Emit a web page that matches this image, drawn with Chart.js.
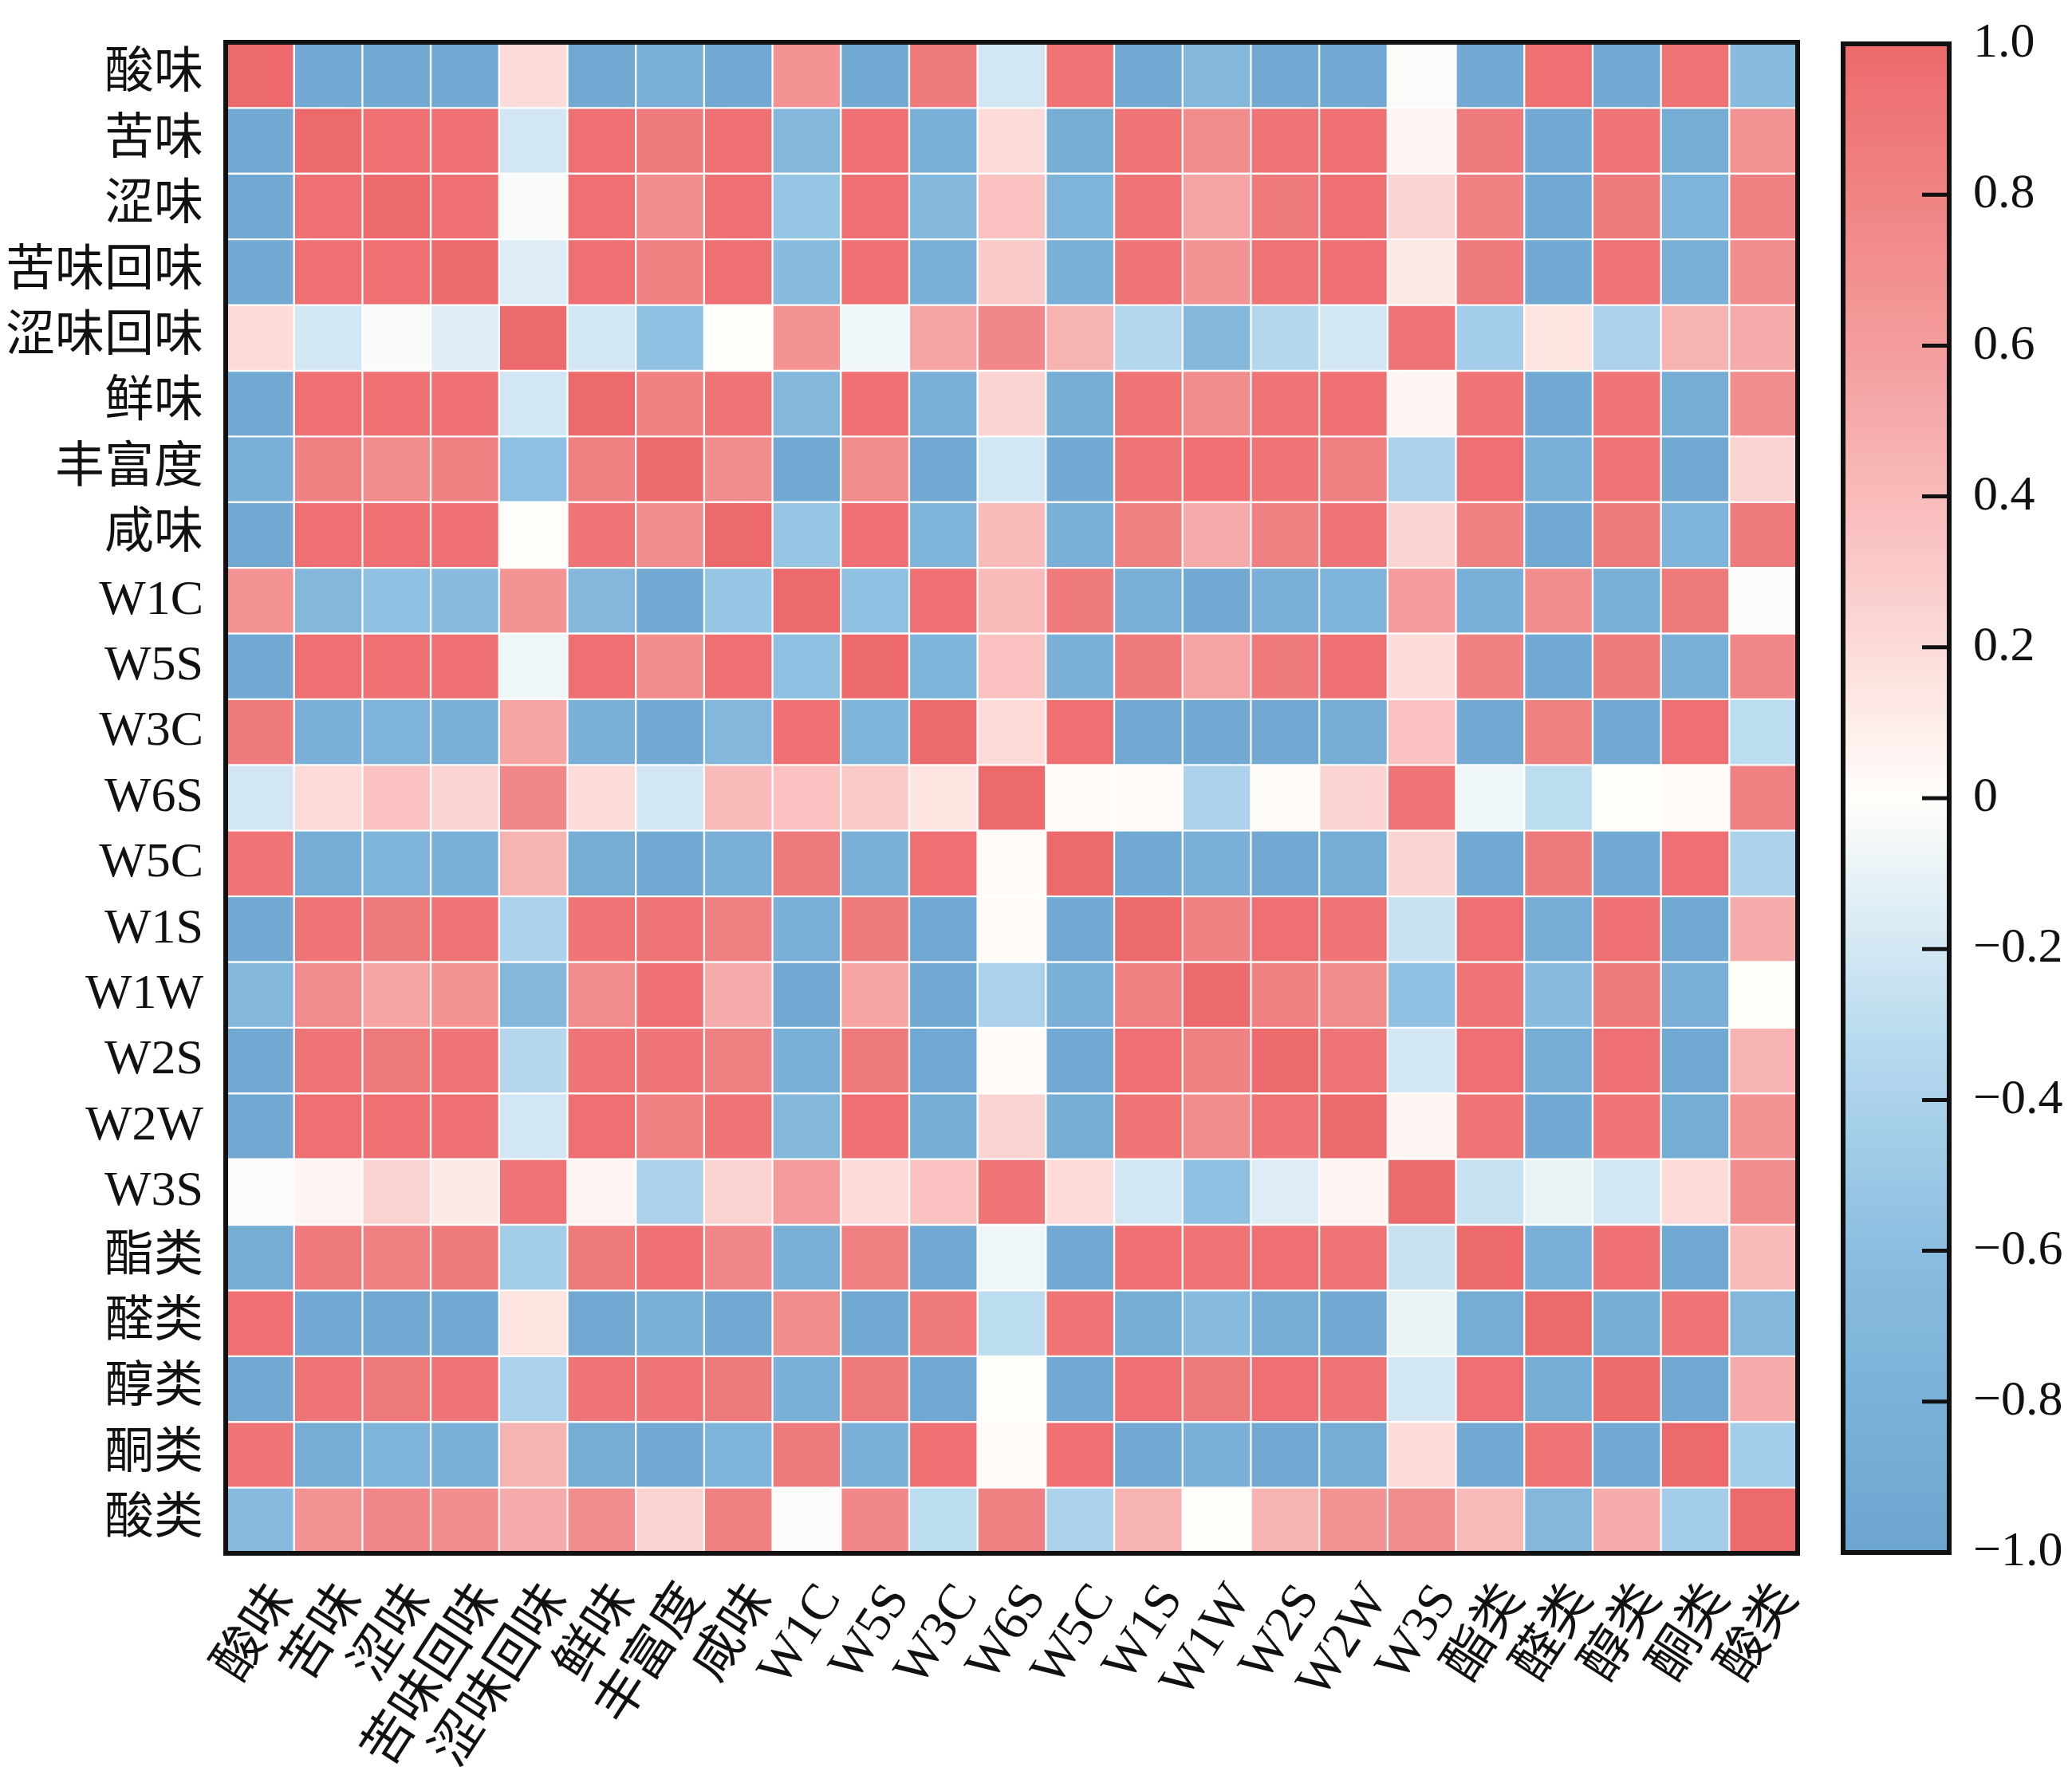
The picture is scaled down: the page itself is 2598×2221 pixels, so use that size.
<!DOCTYPE html>
<html>
<head>
<meta charset="utf-8">
<script src="https://cdn.jsdelivr.net/npm/chart.js@4.4.1/dist/chart.umd.min.js"></script>
<style>
  body { margin: 0; background: #fff; }
  #wrap { position: relative; width: 2598px; height: 2221px; background: #fff; }
  #heat { position: absolute; left: 0; top: 0; width: 2300px; height: 2221px; }
  #bar { position: absolute; left: 2300px; top: 0; width: 298px; height: 2221px; }
</style>
</head>
<body>
<div id="wrap">
  <div id="heat"><canvas id="heatChart"></canvas></div>
  <div id="bar"><canvas id="barChart"></canvas></div>
</div>
<script>
// correlation heatmap of taste / sensor / volatile indices
var labels = ['酸味', '苦味', '涩味', '苦味回味', '涩味回味', '鲜味', '丰富度', '咸味',
              'W1C', 'W5S', 'W3C', 'W6S', 'W5C', 'W1S', 'W1W', 'W2S', 'W2W', 'W3S',
              '酯类', '醛类', '醇类', '酮类', '酸类'];

// one row per label, same column order
var corr = [
  [1, -0.93, -0.93, -0.93, 0.2, -0.93, -0.82, -0.93, 0.67, -0.93, 0.87, -0.2, 0.92, -0.93, -0.7, -0.93, -0.93, -0.02, -0.93, 0.95, -0.93, 0.92, -0.64],
  [-0.93, 1, 0.95, 0.95, -0.2, 0.95, 0.87, 0.95, -0.7, 0.95, -0.82, 0.2, -0.88, 0.92, 0.72, 0.92, 0.95, 0.05, 0.87, -0.93, 0.92, -0.88, 0.67],
  [-0.93, 0.95, 1, 0.95, -0.03, 0.95, 0.72, 0.95, -0.52, 0.95, -0.7, 0.35, -0.76, 0.92, 0.55, 0.87, 0.95, 0.25, 0.82, -0.93, 0.87, -0.76, 0.82],
  [-0.93, 0.95, 0.95, 1, -0.15, 0.95, 0.82, 0.95, -0.64, 0.95, -0.82, 0.3, -0.82, 0.92, 0.67, 0.92, 0.95, 0.12, 0.87, -0.93, 0.92, -0.82, 0.72],
  [0.2, -0.2, -0.03, -0.15, 1, -0.2, -0.58, 0, 0.67, -0.07, 0.55, 0.77, 0.45, -0.35, -0.7, -0.35, -0.2, 0.92, -0.45, 0.15, -0.4, 0.45, 0.5],
  [-0.93, 0.95, 0.95, 0.95, -0.2, 1, 0.82, 0.92, -0.7, 0.95, -0.82, 0.25, -0.88, 0.92, 0.72, 0.92, 0.95, 0.05, 0.92, -0.93, 0.92, -0.88, 0.72],
  [-0.82, 0.82, 0.72, 0.82, -0.58, 0.82, 1, 0.72, -0.93, 0.72, -0.93, -0.2, -0.93, 0.92, 0.95, 0.92, 0.82, -0.4, 0.95, -0.82, 0.92, -0.93, 0.25],
  [-0.93, 0.95, 0.95, 0.95, 0, 0.92, 0.72, 1, -0.52, 0.95, -0.76, 0.4, -0.82, 0.82, 0.5, 0.82, 0.92, 0.25, 0.82, -0.93, 0.87, -0.76, 0.87],
  [0.67, -0.7, -0.58, -0.64, 0.67, -0.7, -0.93, -0.52, 1, -0.58, 0.95, 0.4, 0.87, -0.82, -0.93, -0.82, -0.76, 0.62, -0.82, 0.72, -0.82, 0.87, -0.02],
  [-0.93, 0.95, 0.95, 0.95, -0.07, 0.95, 0.72, 0.95, -0.58, 1, -0.76, 0.35, -0.82, 0.87, 0.55, 0.87, 0.95, 0.2, 0.82, -0.93, 0.87, -0.82, 0.77],
  [0.87, -0.82, -0.76, -0.82, 0.55, -0.82, -0.93, -0.7, 0.95, -0.76, 1, 0.2, 0.95, -0.93, -0.93, -0.93, -0.88, 0.35, -0.93, 0.82, -0.93, 0.95, -0.3],
  [-0.2, 0.2, 0.35, 0.25, 0.77, 0.2, -0.2, 0.4, 0.35, 0.3, 0.15, 1, 0.02, 0.02, -0.4, 0.02, 0.25, 0.92, -0.07, -0.3, 0, 0.02, 0.82],
  [0.92, -0.88, -0.76, -0.82, 0.45, -0.88, -0.93, -0.82, 0.87, -0.82, 0.95, 0.02, 1, -0.93, -0.82, -0.93, -0.88, 0.25, -0.93, 0.87, -0.93, 0.95, -0.4],
  [-0.93, 0.92, 0.87, 0.92, -0.4, 0.92, 0.92, 0.82, -0.82, 0.87, -0.93, 0.02, -0.93, 1, 0.82, 0.95, 0.92, -0.25, 0.95, -0.88, 0.95, -0.93, 0.5],
  [-0.7, 0.72, 0.55, 0.67, -0.7, 0.72, 0.95, 0.5, -0.93, 0.55, -0.93, -0.4, -0.82, 0.82, 1, 0.82, 0.72, -0.58, 0.92, -0.64, 0.87, -0.82, 0],
  [-0.93, 0.92, 0.87, 0.92, -0.35, 0.92, 0.92, 0.82, -0.82, 0.87, -0.93, 0.02, -0.93, 0.95, 0.82, 1, 0.92, -0.2, 0.95, -0.88, 0.95, -0.93, 0.45],
  [-0.93, 0.95, 0.95, 0.95, -0.2, 0.95, 0.82, 0.92, -0.7, 0.95, -0.88, 0.25, -0.88, 0.92, 0.72, 0.92, 1, 0.05, 0.92, -0.93, 0.92, -0.88, 0.67],
  [-0.02, 0.05, 0.25, 0.12, 0.92, 0.05, -0.4, 0.25, 0.62, 0.2, 0.35, 0.92, 0.2, -0.2, -0.58, -0.15, 0.05, 1, -0.25, -0.1, -0.2, 0.2, 0.72],
  [-0.88, 0.87, 0.82, 0.87, -0.45, 0.87, 0.95, 0.77, -0.82, 0.82, -0.93, -0.07, -0.93, 0.95, 0.92, 0.95, 0.92, -0.25, 1, -0.82, 0.95, -0.93, 0.4],
  [0.95, -0.93, -0.93, -0.93, 0.15, -0.93, -0.82, -0.93, 0.72, -0.93, 0.87, -0.3, 0.92, -0.88, -0.64, -0.88, -0.93, -0.1, -0.88, 1, -0.88, 0.92, -0.7],
  [-0.93, 0.92, 0.87, 0.92, -0.4, 0.92, 0.92, 0.87, -0.82, 0.87, -0.93, 0, -0.93, 0.95, 0.87, 0.95, 0.92, -0.2, 0.95, -0.88, 1, -0.93, 0.5],
  [0.92, -0.88, -0.76, -0.82, 0.45, -0.88, -0.93, -0.76, 0.87, -0.82, 0.95, 0.02, 0.95, -0.93, -0.82, -0.93, -0.88, 0.2, -0.93, 0.92, -0.93, 1, -0.45],
  [-0.64, 0.67, 0.77, 0.72, 0.5, 0.72, 0.25, 0.82, -0.02, 0.77, -0.3, 0.82, -0.4, 0.45, 0, 0.45, 0.67, 0.72, 0.4, -0.7, 0.5, -0.45, 1]
];

var cbarTicks = [1, 0.8, 0.6, 0.4, 0.2, 0, -0.2, -0.4, -0.6, -0.8, -1];

// colour stops of the diverging map [value, r, g, b]
var cmap = [
    [-1, 108, 165, 207],
    [-0.6, 138, 190, 224],
    [-0.3, 188, 220, 239],
    [0, 255, 254, 250],
    [0.3, 250, 202, 200],
    [0.6, 244, 156, 156],
    [1, 237, 106, 108]
];
var fontFam = "'Liberation Serif', 'Times New Roman', Times, 'Noto Sans CJK SC', serif";

function colorFor(v) {
    v = Math.max(-1, Math.min(1, v));
    for (var i = 1; i < cmap.length; i++) {
        if (v <= cmap[i][0]) {
            var a = cmap[i - 1], b = cmap[i];
            var t = (v - a[0]) / (b[0] - a[0]);
            var c = [1, 2, 3].map(function (k) { return Math.round(a[k] + (b[k] - a[k]) * t); });
            return 'rgb(' + c.join(',') + ')';
        }
    }
    return 'rgb(237,106,108)';
}

// black frame round the plot area
var framePlugin = {
    id: 'frame',
    afterDraw: function (chart) {
        var a = chart.chartArea, ctx = chart.ctx;
        ctx.save();
        ctx.lineWidth = 6;
        ctx.strokeStyle = '#111';
        ctx.strokeRect(a.left, a.top, a.right - a.left, a.bottom - a.top);
        ctx.restore();
    }
};

var datasets = labels.map(function (row, r) {
    return {
        label: row,
        data: labels.map(function () { return [r - 0.5, r + 0.5]; }),
        backgroundColor: function (ctx) { return colorFor(corr[r][ctx.dataIndex]); },
        borderColor: '#ffffff',
        borderWidth: 1.5,
        borderSkipped: false,
        grouped: false,
        barPercentage: 1,
        categoryPercentage: 1
    };
});

function noPad(s) {
    s.paddingTop = 0; s.paddingBottom = 0; s.paddingLeft = 0; s.paddingRight = 0;
}

new Chart(document.getElementById('heatChart'), {
    type: 'bar',
    data: { labels: labels, datasets: datasets },
    options: {
        responsive: true,
        maintainAspectRatio: false,
        devicePixelRatio: 1,
        animation: false,
        layout: { padding: { top: 53, right: 46, left: 0, bottom: 0 } },
        plugins: { legend: { display: false }, tooltip: { enabled: false } },
        scales: {
            x: {
                grid: { display: false, drawTicks: false },
                border: { display: false },
                ticks: {
                    autoSkip: false, maxRotation: 57, minRotation: 57, padding: 26,
                    labelOffset: 30,
                    color: '#111', font: { family: fontFam, size: 64 }
                },
                afterFit: function (s) { s.height = 273; noPad(s); }
            },
            y: {
                type: 'linear',
                min: -0.5, max: 22.5, reverse: true,
                afterBuildTicks: function (s) {
                    s.ticks = labels.map(function (_, i) { return { value: i }; });
                },
                grid: { display: false, drawTicks: false },
                border: { display: false },
                ticks: {
                    autoSkip: false, padding: 28, color: '#111',
                    font: { family: fontFam, size: 62 },
                    callback: function (v) { return labels[v]; }
                },
                afterFit: function (s) { s.width = 283; noPad(s); }
            }
        }
    },
    plugins: [framePlugin]
});

// colour bar
var cbarTickPlugin = {
    id: 'cbarTicks',
    afterDraw: function (chart) {
        var a = chart.chartArea, ctx = chart.ctx, y = chart.scales.y;
        ctx.save();
        ctx.lineWidth = 5;
        ctx.strokeStyle = '#111';
        cbarTicks.forEach(function (v) {
            if (Math.abs(v) === 1) return;
            var py = y.getPixelForValue(v);
            ctx.beginPath();
            ctx.moveTo(a.right - 34, py);
            ctx.lineTo(a.right, py);
            ctx.stroke();
        });
        ctx.restore();
    }
};

new Chart(document.getElementById('barChart'), {
    type: 'bar',
    data: {
        labels: [''],
        datasets: [{
            data: [[-1, 1]],
            backgroundColor: function (ctx) {
                var a = ctx.chart.chartArea;
                if (!a) return null;
                var g = ctx.chart.ctx.createLinearGradient(0, a.bottom, 0, a.top);
                cmap.forEach(function (s) {
                    g.addColorStop((s[0] + 1) / 2, colorFor(s[0]));
                });
                return g;
            },
            borderWidth: 0,
            barPercentage: 1,
            categoryPercentage: 1
        }]
    },
    options: {
        responsive: true,
        maintainAspectRatio: false,
        devicePixelRatio: 1,
        animation: false,
        layout: { padding: { top: 55, left: 11, bottom: 274, right: 0 } },
        plugins: { legend: { display: false }, tooltip: { enabled: false } },
        scales: {
            x: { display: false },
            y: {
                position: 'right',
                min: -1, max: 1,
                afterBuildTicks: function (s) {
                    s.ticks = cbarTicks.map(function (v) { return { value: v }; });
                },
                grid: { display: false, drawTicks: false },
                border: { display: false },
                ticks: {
                    padding: 30, color: '#111',
                    font: { family: fontFam, size: 62 },
                    callback: function (v) {
                        if (v === 0) return '0';
                        return (v < 0 ? '\u2212' : '') + Math.abs(v).toFixed(1);
                    }
                },
                afterFit: function (s) { s.width = 154; noPad(s); }
            }
        }
    },
    plugins: [framePlugin, cbarTickPlugin]
});
</script>
</body>
</html>
